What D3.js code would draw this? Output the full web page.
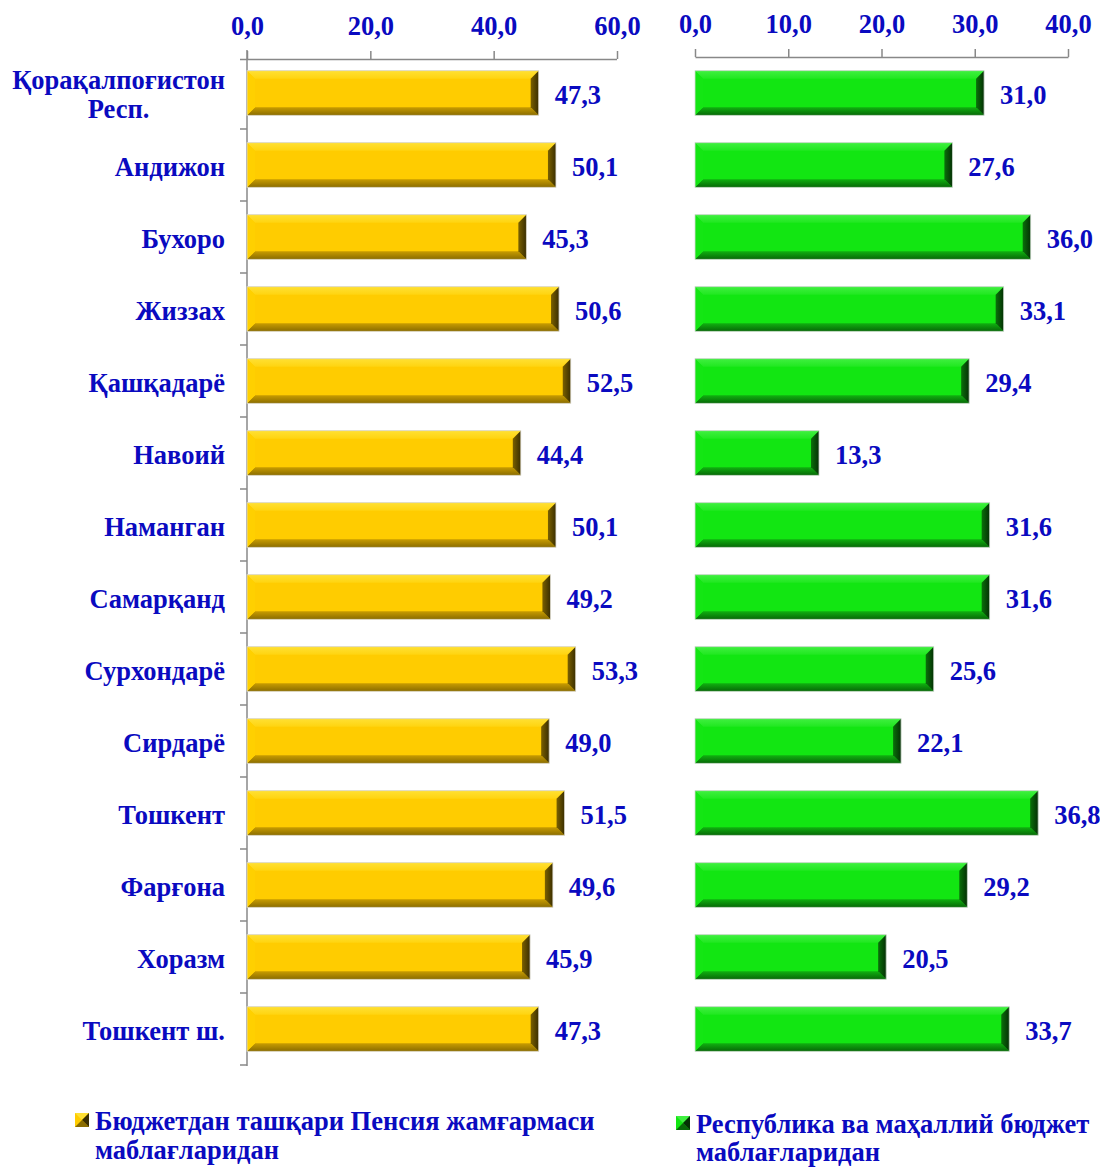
<!DOCTYPE html>
<html><head><meta charset="utf-8">
<script src="https://cdn.jsdelivr.net/npm/d3@7"></script>
<style>body{margin:0;background:#fff}svg{display:block}</style>
</head><body>
<svg id="chart" width="1100" height="1168"></svg>
<script>
const categories = ["Қорақалпоғистон|Респ.", "Андижон", "Бухоро", "Жиззах", "Қашқадарё", "Навоий", "Наманган", "Самарқанд", "Сурхондарё", "Сирдарё", "Тошкент", "Фарғона", "Хоразм", "Тошкент ш."];
const pensionValues = [47.3, 50.1, 45.3, 50.6, 52.5, 44.4, 50.1, 49.2, 53.3, 49.0, 51.5, 49.6, 45.9, 47.3];
const budgetValues = [31.0, 27.6, 36.0, 33.1, 29.4, 13.3, 31.6, 31.6, 25.6, 22.1, 36.8, 29.2, 20.5, 33.7];
const leftTicks = [0, 20, 40, 60];
const rightTicks = [0, 10, 20, 30, 40];
const legendLabels = ["Бюджетдан ташқари Пенсия жамғармаси|маблағларидан", "Республика ва маҳаллий бюджет|маблағларидан"];

const svg = d3.select("#chart");
const FONT = "'Liberation Serif','Times New Roman',serif";
const FS = 26.5;
const BLUE = "#0a0ac0";
const fmt = v => d3.format(".1f")(v).replace(".", ",");

const y = d3.scaleBand().domain(categories).range([57, 1065]).paddingInner(0.38).paddingOuter(0.19);

const defs = svg.append("defs");
const palettes = {
  gold: {main: "#ffcc00", top: ["#ffe033", "#ffd410"], bottom: ["#c89c00", "#8a6c00"], left: "#ffd000", right: ["#7a6000", "#3a2e00"]},
  green: {main: "#12e612", top: ["#40f040", "#20e820"], bottom: ["#10b010", "#076807"], left: "#14e614", right: ["#0a700a", "#043004"]}
};
Object.entries(palettes).forEach(([k, p]) => {
  ["top", "bottom"].forEach(side => {
    const g = defs.append("linearGradient").attr("id", `${k}-${side}`).attr("x1", 0).attr("x2", 0).attr("y1", 0).attr("y2", 1);
    g.append("stop").attr("offset", 0).attr("stop-color", p[side][0]);
    g.append("stop").attr("offset", 1).attr("stop-color", p[side][1]);
  });
  const g = defs.append("linearGradient").attr("id", `${k}-right`).attr("x1", 0).attr("x2", 1).attr("y1", 0).attr("y2", 0);
  g.append("stop").attr("offset", 0).attr("stop-color", p.right[0]);
  g.append("stop").attr("offset", 1).attr("stop-color", p.right[1]);
});

function drawBars(g, x, values, key, b) {
  const pal = palettes[key];
  const grp = g.append("g");
  values.forEach((v, i) => {
    const x0 = x(0), x1 = x(v), y0 = y(categories[i]), y1 = y0 + y.bandwidth();
    const bar = grp.append("g");
    bar.append("rect").attr("x", x0).attr("y", y0).attr("width", x1 - x0).attr("height", y1 - y0).attr("fill", pal.main);
    const poly = (pts, c) => bar.append("polygon").attr("points", pts.map(p => p.join(",")).join(" ")).attr("fill", c);
    poly([[x0, y0], [x1, y0], [x1 - b, y0 + b], [x0 + b, y0 + b]], `url(#${key}-top)`);
    poly([[x0, y1], [x1, y1], [x1 - b, y1 - b], [x0 + b, y1 - b]], `url(#${key}-bottom)`);
    poly([[x0, y0], [x0 + b, y0 + b], [x0 + b, y1 - b], [x0, y1]], pal.left);
    poly([[x1, y0], [x1 - b, y0 + b], [x1 - b, y1 - b], [x1, y1]], `url(#${key}-right)`);
    bar.append("rect").attr("x", x0).attr("y", y0).attr("width", x1 - x0).attr("height", y1 - y0)
      .attr("fill", "none").attr("stroke", "#d8d8d8").attr("stroke-width", 0.8);
    grp.append("text").attr("x", x1 + 16).attr("y", y0 + y.bandwidth() / 2 + 1).attr("dy", "0.36em")
      .attr("font-family", FONT).attr("font-weight", "bold").attr("font-size", FS).attr("fill", BLUE)
      .text(fmt(v));
  });
}

function drawTopAxis(x, ticks, axisY) {
  const g = svg.append("g").attr("transform", `translate(0,${axisY})`);
  g.call(d3.axisTop(x).tickValues(ticks).tickFormat(fmt).tickSize(8).tickSizeOuter(0));
  g.select(".domain").attr("stroke", "#888").attr("stroke-width", 1.5);
  g.selectAll(".tick line").attr("stroke", "#888").attr("stroke-width", 1.5);
  g.selectAll(".tick text").attr("font-family", FONT).attr("font-weight", "bold").attr("font-size", FS)
    .attr("fill", BLUE).attr("y", -24).attr("dy", 0);
  return g;
}

// Left panel
const xL = d3.scaleLinear().domain([0, 60]).range([247, 617]);
const axL = drawTopAxis(xL, leftTicks, 59);
axL.select(".domain").attr("d", `M240,0.5H${xL(60)}`);
const yAxisG = svg.append("g").attr("transform", "translate(247,0)");
yAxisG.append("line").attr("x1", 0).attr("x2", 0).attr("y1", 50).attr("y2", 1066).attr("stroke", "#888").attr("stroke-width", 1.5);
const bounds = categories.map(c => y(c) - y.step() * y.paddingInner() / 2).concat([1065]);
yAxisG.selectAll("line.ct").data(bounds.slice(1)).join("line").attr("class", "ct")
  .attr("x1", -7).attr("x2", 0).attr("y1", d => d).attr("y2", d => d).attr("stroke", "#888").attr("stroke-width", 1.5);

drawBars(svg.append("g"), xL, pensionValues, "gold", 8);

categories.forEach(c => {
  const lines = c.split("|");
  const t = svg.append("text").attr("font-family", FONT).attr("font-weight", "bold").attr("font-size", FS).attr("fill", BLUE);
  const cy = y(c) + y.bandwidth() / 2;
  if (lines.length === 1) {
    t.attr("x", 225).attr("y", cy + 1).attr("dy", "0.36em").attr("text-anchor", "end").text(lines[0]);
  } else {
    t.attr("text-anchor", "middle");
    lines.forEach((l, k) => t.append("tspan").attr("y", cy).attr("dy", (k === 0 ? -12 : 17) + 8).text(l));
    const w = d3.max(t.selectAll("tspan").nodes(), n => n.getComputedTextLength());
    t.selectAll("tspan").attr("x", 225 - w / 2);
  }
});

// Right panel
const xR = d3.scaleLinear().domain([0, 40]).range([695, 1068]);
drawTopAxis(xR, rightTicks, 57);
drawBars(svg.append("g"), xR, budgetValues, "green", 8);

// Legend
function legendItem(x, yTop, key, label, gap) {
  const pal = palettes[key];
  const g = svg.append("g");
  const s = 14;
  g.append("rect").attr("x", x).attr("y", yTop).attr("width", s).attr("height", s).attr("fill", pal.main);
  g.append("polygon").attr("points", `${x},${yTop} ${x + s},${yTop} ${x + s / 2},${yTop + s / 2}`).attr("fill", pal.top[0]);
  g.append("polygon").attr("points", `${x},${yTop + s} ${x + s},${yTop + s} ${x + s / 2},${yTop + s / 2}`).attr("fill", pal.bottom[1]);
  g.append("polygon").attr("points", `${x + s},${yTop} ${x + s},${yTop + s} ${x + s / 2},${yTop + s / 2}`).attr("fill", pal.right[1]);
  const t = g.append("text").attr("font-family", FONT).attr("font-weight", "bold").attr("font-size", FS).attr("fill", BLUE);
  label.split("|").forEach((l, k) => t.append("tspan").attr("x", x + 20).attr("y", yTop + 17 + k * gap).text(l));
}
legendItem(75, 1113, "gold", legendLabels[0], 29);
legendItem(676, 1116, "green", legendLabels[1], 28);
</script>
</body></html>
